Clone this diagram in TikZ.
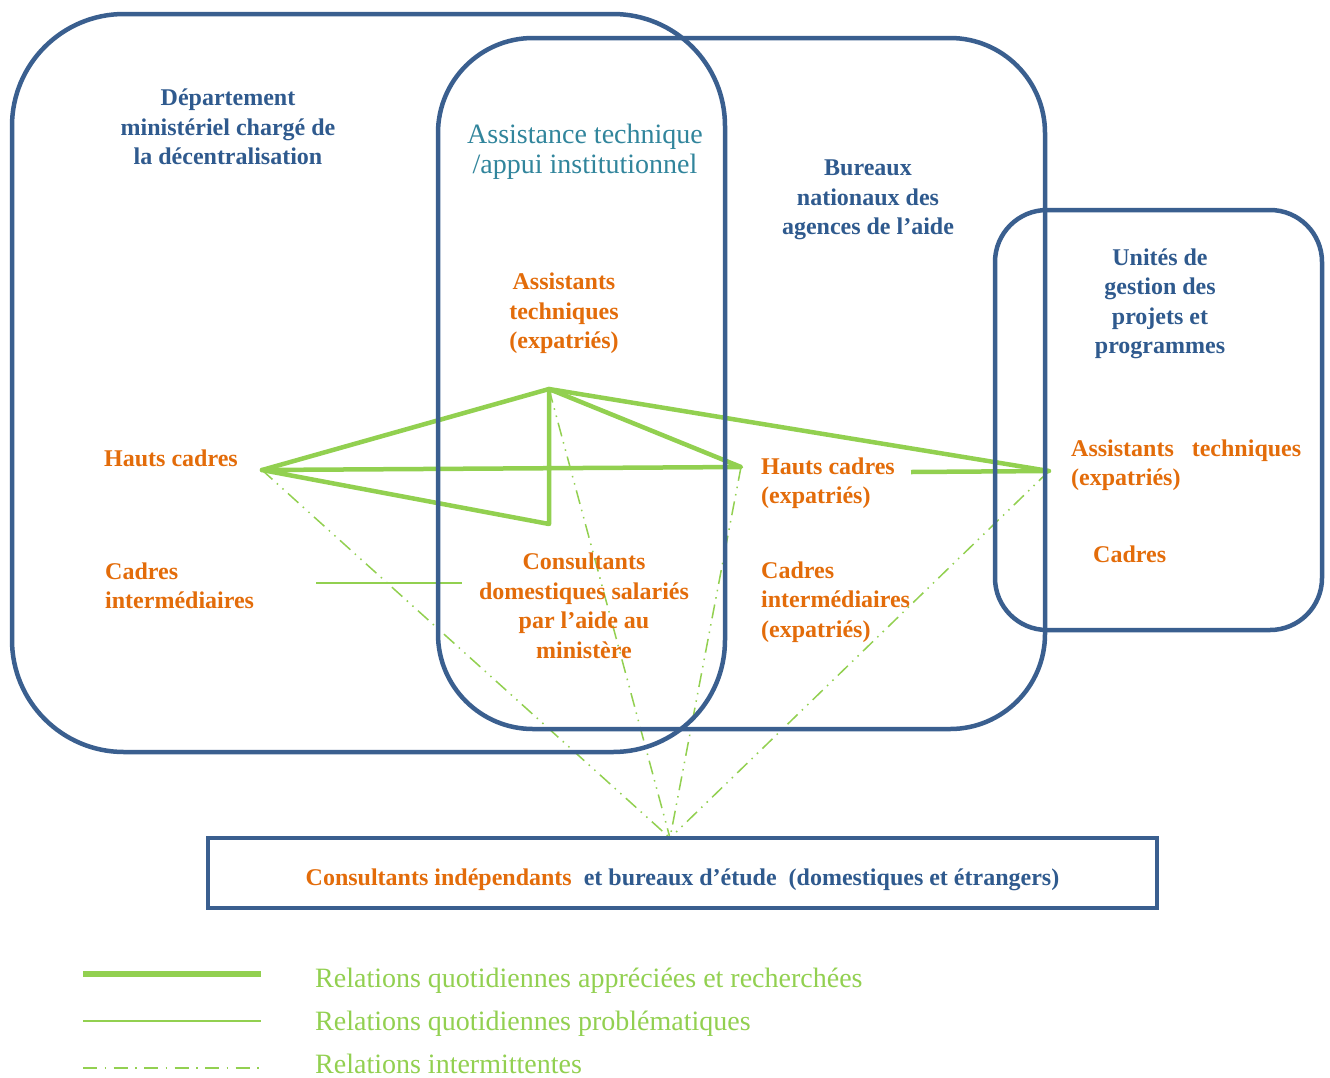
\documentclass[tikz,border=0pt]{standalone}
\usepackage{fontspec}
\setmainfont{Liberation Serif}
\definecolor{boxblue}{HTML}{3A5F8F}
\definecolor{txtblue}{HTML}{2F5A8E}
\definecolor{tealtxt}{HTML}{31859C}
\definecolor{orng}{HTML}{E36C0A}
\definecolor{grn}{HTML}{92D050}
\tikzset{
  box/.style={draw=boxblue, line width=4.5pt},
  heavy/.style={inner sep=0pt, font=\bfseries\fontsize{24}{29.5}\selectfont},
  org/.style={heavy, text=orng},
  blu/.style={heavy, text=txtblue},
  light/.style={inner sep=0pt, font=\fontsize{28}{30}\selectfont},
  rstrong/.style={draw=grn, line width=4.5pt, line cap=round, line join=round},
  rweak/.style={draw=grn, line width=2pt},
  rinterm/.style={draw=grn, line width=1.5pt, dash pattern=on 14pt off 6pt on 1.5pt off 6pt on 1.5pt off 6pt},
  rlegint/.style={draw=grn, line width=2pt, dash pattern=on 14pt off 7.5pt on 1.5pt off 7.5pt},
}
\begin{document}
\begin{tikzpicture}[x=1pt,y=-1pt]
\fill[white] (0,0) rectangle (1330,1077);
\useasboundingbox (0,0) rectangle (1330,1077);

% anchor points of the relations
\coordinate (pA) at (549,389);
\coordinate (pH) at (262,470);
\coordinate (pHE) at (741,467);
\coordinate (pU) at (1049,471);
\coordinate (pHEr) at (911,472);
\coordinate (pV) at (549,524);
\coordinate (pW1) at (316,583);
\coordinate (pW2) at (462,583);
\coordinate (pC) at (670,838);

% intermittent relations
\draw[rinterm] (pH) -- (pC);
\draw[rinterm] (pA) -- (pC);
\draw[rinterm] (pHE) -- (pC);
\draw[rinterm] (pU) -- (pC);

% daily appreciated relations
\draw[rstrong] (pH) -- (pA) -- (pU);
\draw[rstrong] (pA) -- (pHE) -- (pH) -- (pV) -- (pA);
\draw[rstrong, line cap=butt] (pHEr) -- (pU);

% problematic relation
\draw[rweak] (pW1) -- (pW2);

% boxes
\draw[box, rounded corners=112pt] (12,14) rectangle (725,752);
\draw[box, rounded corners=95pt] (438,38) rectangle (1045,729);
\draw[box, rounded corners=52pt] (995,210) rectangle (1322,630);
\draw[box] (208,838) rectangle (1157,908);

% titles
\node[blu, align=center] (dept) at (228,127) {Département\\ministériel chargé de\\la décentralisation};
\node[light, align=center, text=tealtxt] (atit) at (585,152) {Assistance technique\\/appui institutionnel};
\node[blu, align=center] (bur) at (868,200) {Bureaux\\nationaux des\\agences de l’aide};
\node[blu, align=center] (ugp) at (1160,304) {Unités de\\gestion des\\projets et\\programmes};

% actors
\node[org, align=center] (ate) at (564,313.5) {Assistants\\techniques\\(expatriés)};
\node[org, anchor=base west] (hc) at (104,466) {Hauts cadres};
\node[org, align=left, anchor=west] (ci) at (105,586) {Cadres\\intermédiaires};
\node[org, align=center] (cons) at (584,606) {Consultants\\domestiques salariés\\par l’aide au\\ministère};
\node[org, align=left, anchor=west] (hce) at (761,483) {Hauts cadres\\(expatriés)};
\node[org, align=left, anchor=west] (cie) at (761,602) {Cadres\\intermédiaires\\(expatriés)};
\node[org, align=left, anchor=west] (atu) at (1071,465) {\makebox[230pt][s]{Assistants techniques}\\(expatriés)};
\node[org, anchor=base west] (cad) at (1093,562) {Cadres};
\node[org, anchor=base] (ext) at (682.5,885) {Consultants indépendants\ \ \textcolor{txtblue}{et bureaux d’étude\ \ (domestiques et étrangers)}};

% legend
\coordinate (l1a) at (83,974); \coordinate (l1b) at (261,974);
\coordinate (l2a) at (83,1021); \coordinate (l2b) at (261,1021);
\coordinate (l3a) at (83,1068); \coordinate (l3b) at (261,1068);
\draw[draw=grn, line width=5.5pt] (l1a) -- (l1b);
\draw[rweak] (l2a) -- (l2b);
\draw[rlegint] (l3a) -- (l3b);
\node[light, text=grn, anchor=base west] (t1) at (315,987) {Relations quotidiennes appréciées et recherchées};
\node[light, text=grn, anchor=base west] (t2) at (315,1030) {Relations quotidiennes problématiques};
\node[light, text=grn, anchor=base west] (t3) at (315,1073) {Relations intermittentes};
\end{tikzpicture}
\end{document}
